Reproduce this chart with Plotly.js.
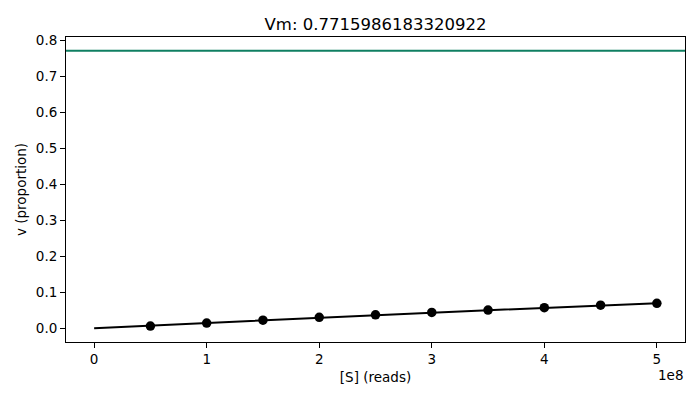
<!DOCTYPE html>
<html>
<head>
<meta charset="utf-8">
<script src="https://cdn.plot.ly/plotly-3.0.1.min.js"></script>
<style>html,body{margin:0;padding:0;background:#fff;}</style>
</head>
<body>
<div id="chart" style="width:700px;height:400px;"></div>
<script>
// Observed data
const substrate = [0.5e8, 1e8, 1.5e8, 2e8, 2.5e8, 3e8, 3.5e8, 4e8, 4.5e8, 5e8];
const velocity = [0.0058, 0.0140, 0.0222, 0.0300, 0.0370, 0.0437, 0.0502, 0.0568, 0.0638, 0.0690];
// Fitted curve
const fitS = [0, 0.5e8, 1e8, 1.5e8, 2e8, 2.5e8, 3e8, 3.5e8, 4e8, 4.5e8, 5e8];
const fitV = [0, 0.0074, 0.0149, 0.0221, 0.0292, 0.0361, 0.0430, 0.0497, 0.0564, 0.0629, 0.0690];
const vmValue = 0.7715986183320922;
const vmLabel = "0.7715986183320922";
const xTickVals = [0, 1e8, 2e8, 3e8, 4e8, 5e8];
const xTickText = ["0", "1", "2", "3", "4", "5"];
const yTickVals = [0, 0.1, 0.2, 0.3, 0.4, 0.5, 0.6, 0.7, 0.8];

const font = {family: "DejaVu Sans", color: "#000"};

const traces = [
  {x: fitS, y: fitV, mode: "lines", line: {color: "#000", width: 2}, hoverinfo: "skip"},
  {x: substrate, y: velocity, mode: "markers", marker: {color: "#000", size: 9.5}}
];

const layout = {
  width: 700, height: 400,
  margin: {l: 66, r: 15, t: 37, b: 58},
  paper_bgcolor: "#fff", plot_bgcolor: "#fff",
  showlegend: false,
  font: Object.assign({size: 13.5}, font),
  title: {text: "Vm: " + vmLabel, font: Object.assign({size: 16.5}, font), xref: "paper", x: 0.5, xanchor: "center", y: 0.94, yanchor: "middle"},
  xaxis: {
    range: [-0.25e8, 5.25e8],
    tickvals: xTickVals, ticktext: xTickText,
    ticks: "outside", ticklen: 5, tickwidth: 1, tickcolor: "#000",
    showline: true, linecolor: "#000", linewidth: 1, mirror: true,
    showgrid: false, zeroline: false,
    tickfont: Object.assign({size: 13.5}, font),
    title: {text: "[S] (reads)", font: Object.assign({size: 13.5}, font), standoff: 6},
    automargin: false
  },
  yaxis: {
    range: [-0.0386, 0.8102],
    tickvals: yTickVals, tickformat: ".1f",
    ticks: "outside", ticklen: 5, tickwidth: 1, tickcolor: "#000",
    showline: true, linecolor: "#000", linewidth: 1, mirror: true,
    showgrid: false, zeroline: false,
    tickfont: Object.assign({size: 13.5}, font),
    title: {text: "v (proportion)", font: Object.assign({size: 13.5}, font), standoff: 6},
    automargin: false
  },
  shapes: [
    {type: "line", xref: "paper", x0: 0, x1: 1, yref: "y", y0: vmValue, y1: vmValue,
     line: {color: "#0f7f62", width: 2}}
  ],
  annotations: [
    {text: "1e8", xref: "paper", yref: "paper", x: 1, y: -0.108, xanchor: "right", yanchor: "middle",
     showarrow: false, font: Object.assign({size: 13.5}, font)}
  ]
};

Plotly.newPlot("chart", traces, layout, {displayModeBar: false, staticPlot: true});
</script>
</body>
</html>
